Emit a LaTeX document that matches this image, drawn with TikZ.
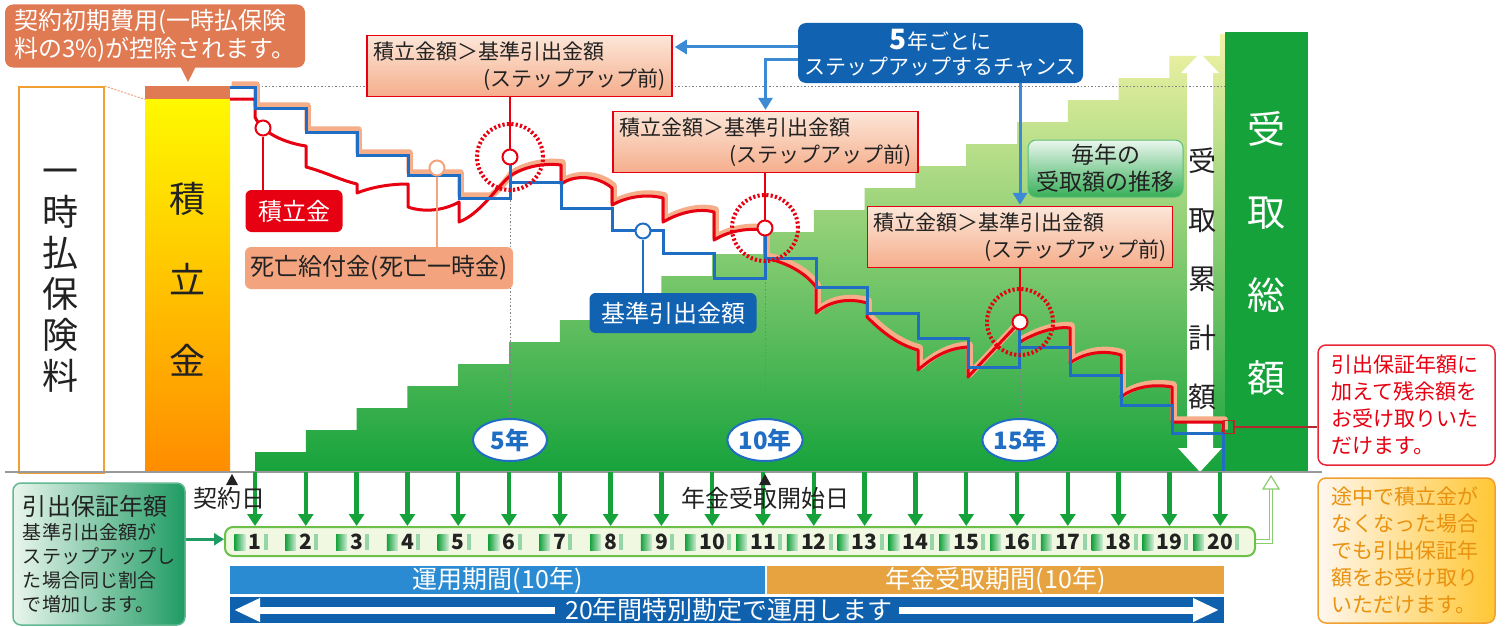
\documentclass[tikz,border=0pt]{standalone}
\usepackage{fontspec}
\setmainfont{Noto Sans CJK JP}
\usetikzlibrary{arrows.meta,calc,shapes.geometric}
\definecolor{cRed}{HTML}{E60012}
\definecolor{cBlue}{HTML}{1F6EC3}
\definecolor{cBlueD}{HTML}{1162B1}
\definecolor{cArrowB}{HTML}{3B8AD3}
\definecolor{cSalm}{HTML}{F3A47F}
\definecolor{cSalmL}{HTML}{F5AD8A}
\definecolor{cBrown}{HTML}{DF7A52}
\definecolor{cGreen}{HTML}{15A23B}
\definecolor{cGreenM}{HTML}{86C540}
\definecolor{cYelL}{HTML}{F3F4A6}
\definecolor{cOrange}{HTML}{F0A030}
\definecolor{cOrText}{HTML}{E9920F}
\definecolor{cBarBlue}{HTML}{2A8BD2}
\definecolor{cBarOr}{HTML}{E7A33F}
\definecolor{cBarDB}{HTML}{0F61AE}
\definecolor{cTeal}{HTML}{1F9B63}
\definecolor{cTealL}{HTML}{EAF6EE}
\definecolor{cDarkRed}{HTML}{B22A2E}
\definecolor{cBoxTop}{HTML}{FCE6D8}
\definecolor{cBoxBot}{HTML}{F5AE8C}
\definecolor{cStripG}{HTML}{6CC04A}
\definecolor{cStripF}{HTML}{F0F8E2}
\definecolor{cTxt}{HTML}{222222}
\newcommand\fsz[2]{\fontsize{#1}{#2}\selectfont}
\def\redtail{ .. controls (525,166) and (545,163) .. (561,165) -- (561,184) .. controls (575,174) and (598,176) .. (612,188) -- (612,205) .. controls (628,196) and (648,194) .. (663,198) -- (663,222) .. controls (680,212) and (700,208) .. (714,212) -- (714,240) .. controls (730,230) and (750,228) .. (765,230) -- (765,258) .. controls (785,262) and (805,272) .. (816,287) -- (816,313) .. controls (830,300) and (850,298) .. (867,303) -- (867,317) .. controls (885,335) and (900,345) .. (918,350) -- (918,370) .. controls (935,355) and (950,348) .. (968,347) -- (968,377) -- (1014,328) (1020,342) .. controls (1035,333) and (1055,326) .. (1070,328) -- (1070,363) .. controls (1085,352) and (1105,350) .. (1121,355) -- (1121,397) .. controls (1135,386) and (1155,384) .. (1172,387) -- (1172,422) -- (1223,422) -- (1223,432)}
\begin{document}
\begin{tikzpicture}[x=1pt,y=-1pt,
  redl/.style={draw=cRed, line width=3pt, line join=round},
  bluel/.style={draw=cBlue, line width=3pt},
  salml/.style={draw=cSalmL, line width=6.5pt, line join=round},
  dotm/.style={circle, fill=white, draw=#1, line width=2pt, minimum size=15pt, inner sep=0pt},
  dashc/.style={circle, draw=cRed, line width=4pt, dash pattern=on 2.2pt off 2.2pt, minimum size=66pt, inner sep=0pt},
  cbox/.style={draw=cRed, line width=1.5pt, top color=cBoxTop, bottom color=cBoxBot, text width=293pt, minimum height=60pt, align=left, inner sep=6pt, font=\fsz{21}{27}, text=cTxt},
  lab/.style={rounded corners=6pt, font=\fsz{24}{28}, inner sep=0pt},
  yra/.style={draw=cGreen, line width=4.5pt, -{Triangle[width=15pt,length=12pt]}},
  barrow/.style={draw=cArrowB, line width=3pt, -{Triangle[width=14pt,length=12pt]}},
  warrow/.style={draw=white, line width=7pt, -{Triangle[width=22pt,length=26pt]}},
  yoval/.style={ellipse, draw=cBlue, line width=2pt, fill=white, minimum width=74pt, minimum height=42pt, inner sep=0pt, text=cBlue, font=\fsz{24}{24}\bfseries},
  vtxt/.style={align=center, inner sep=0pt, text=cTxt},
  tag/.style={font=\fsz{24}{24}, inner sep=0pt, text=cTxt}
]
\useasboundingbox (0,0) rectangle (1506,626);
\fill[white] (0,0) rectangle (1506,626);

% staircase of yearly amounts
\begin{scope}
 \clip (255,472) \foreach \i in {0,...,18}{ -- ({255+50.8*\i},{452-22*\i}) -- ({255+50.8*(\i+1)},{452-22*\i}) } -- (1220.2,34) -- (1225,34) -- (1225,472) -- cycle;
 \shade[top color=cYelL, middle color=cGreenM, bottom color=cGreen] (250,30) rectangle (1230,475);
\end{scope}

% total column
\node[fill=cGreen, minimum width=83pt, minimum height=440pt, inner sep=0pt, anchor=north west] (col) at (1225,32) {};
\node[vtxt, text=white, font=\fsz{38}{83}] (coltxt) at (1266,254) {受\\取\\総\\額};

% cumulative arrow
\fill[white] (1200,53) -- (1219,73) -- (1213,73) -- (1213,448) -- (1222,448) -- (1200,472) -- (1178,448) -- (1187,448) -- (1187,73) -- (1181,73) -- cycle;
\node[vtxt, font=\fsz{28}{59}] (cumtxt) at (1202,279) {受\\取\\累\\計\\額};

% left boxes
\node[draw=cOrange, line width=1.5pt, minimum width=85pt, minimum height=386pt, inner sep=0pt, anchor=north west] (lbox) at (18,86) {};
\node[vtxt, font=\fsz{36}{41}] (lboxt) at (60,281) {一\\時\\払\\保\\険\\料};
\node[top color=yellow!95!orange, bottom color=orange!90!yellow, minimum width=85pt, minimum height=373pt, inner sep=0pt, anchor=north west] (ybar) at (145,99) {};
\node[fill=cBrown, minimum width=85pt, minimum height=13pt, inner sep=0pt, anchor=north west] (ycap) at (145,86) {};
\node[vtxt, font=\fsz{36}{81}] (ybart) at (187,279) {積\\立\\金};
\draw[cSalm, line width=1pt, dash pattern=on 2pt off 1.5pt] (lbox.north east) -- (ycap.south west);

% top-left callout
\node[fill=cBrown, rounded corners=8pt, text=white, align=left, font=\fsz{24}{28}, minimum width=300pt, minimum height=63pt, inner sep=4pt] (init) at (155,36) {契約初期費用(一時払保険\\料の3\%)が控除されます。};
\fill[cBrown] (180,66) -- (196,66) -- (188,82) -- cycle;

% dotted guide
\draw[gray, line width=1pt, dash pattern=on 1.5pt off 2pt] (258,86) -- (col.north west |- 0,86);

% year ovals and dotted verticals
\node[yoval] (y5) at (510,440) {5年};
\node[yoval] (y10) at (765,440) {10年};
\node[yoval] (y15) at (1020,440) {15年};
\coordinate (v5) at (510,200);
\coordinate (v10) at (765,282);
\coordinate (v15) at (1020,368);
\draw[gray, line width=1pt, dash pattern=on 1.5pt off 2pt] (v5) -- (y5.north);
\draw[gray, line width=1pt, dash pattern=on 1.5pt off 2pt] (v10) -- (y10.north);
\draw[gray, line width=1pt, dash pattern=on 1.5pt off 2pt] (v15) -- (y15.north);

% lines
\draw[salml, shift={(1.5,-2.5)}] (230,87) -- (255,87) -- (255,108) -- (306,108) -- (306,132) -- (357,132) -- (357,155) -- (408,155) -- (408,175) -- (459,175) -- (459,198) -- (490,198) .. controls (500,190) and (505,182) .. (510,176) \redtail;
\draw[redl] (230,99) -- (255,99) -- (255,117) .. controls (262,133) and (285,143) .. (306,146) -- (306,167) .. controls (325,172) and (340,180) .. (357,184) -- (357,193) .. controls (372,187) and (390,184) .. (408,184) -- (408,207) .. controls (425,213) and (445,210) .. (459,202) -- (459,222) .. controls (480,214) and (496,188) .. (510,176) \redtail;
\draw[bluel] (230,87) -- (255,87) -- (255,108) -- (306,108) -- (306,132) -- (357,132) -- (357,155) -- (408,155) -- (408,175) -- (459,175) -- (459,198) -- (510,198) -- (510,162)
 (510,182) -- (561,182) -- (561,208) -- (612,208) -- (612,230) -- (663,230) -- (663,253) -- (714,253) -- (714,278) -- (765,278) -- (765,234)
 (765,258) -- (816,258) -- (816,287) -- (867,287) -- (867,313) -- (918,313) -- (918,338) -- (968,338) -- (968,367) -- (1019,367) -- (1019,328)
 (1019,347) -- (1070,347) -- (1070,375) -- (1121,375) -- (1121,405) -- (1172,405) -- (1172,433) -- (1223,433) -- (1223,472);

% dashed circles and markers
\node[dashc] (dc5) at (510,157) {};
\node[dashc] (dc10) at (765,228) {};
\node[dashc] (dc15) at (1020,322) {};

% labels
\node[lab, fill=cRed, text=white, minimum width=97pt, minimum height=42pt] (lab1) at (294,211) {積立金};
\node[lab, fill=cSalm, text=cTxt, minimum width=268pt, minimum height=42pt] (lab2) at (379,268) {死亡給付金(死亡一時金)};
\node[lab, fill=cBlueD, text=white, minimum width=167pt, minimum height=40pt] (lab3) at (673,313) {基準引出金額};
\node[dotm=cRed] (m1) at (263,128) {};
\node[dotm=cSalm] (m2) at (437,168) {};
\node[dotm=cBlue] (m3) at (643,231) {};
\draw[cRed, line width=1.5pt] (m1.south) -- (m1.south |- lab1.north);
\draw[cSalm, line width=1.5pt] (m2.south) -- (m2.south |- lab2.north);
\draw[cBlue, line width=1.5pt] (m3.south) -- (m3.south |- lab3.north);

% step-up callouts
\node[cbox] (boxA) at (519.5,66) {積立金額＞基準引出金額\\\hspace*{\fill}(ステップアップ前)};
\node[cbox] (boxB) at (765.5,142) {積立金額＞基準引出金額\\\hspace*{\fill}(ステップアップ前)};
\node[cbox] (boxC) at (1020,237) {積立金額＞基準引出金額\\\hspace*{\fill}(ステップアップ前)};
\node[dotm=cRed] (s5) at (510,157) {};
\node[dotm=cRed] (s10) at (765,228) {};
\node[dotm=cRed] (s15) at (1020,322) {};
\draw[cRed, line width=1.5pt] (boxA.south -| s5) -- (s5.north);
\draw[cRed, line width=1.5pt] (boxB.south -| s10) -- (s10.north);
\draw[cRed, line width=1.5pt] (boxC.south -| s15) -- (s15.north);

% chance callout
\node[fill=cBlueD, rounded corners=8pt, text=white, align=center, font=\fsz{21}{25}, minimum width=285pt, minimum height=60pt, inner sep=2pt] (chance) at (940.5,53) {{\fsz{28}{25}\bfseries 5}年ごとに\\ステップアップするチャンス};
\coordinate (cA) at ($(chance.west)+(0,-6)$);
\coordinate (cB) at ($(chance.west)+(0,7)$);
\draw[barrow, shorten >=2pt] (cA) -- (boxA.east |- cA);
\draw[barrow, shorten >=1pt] (cB) -| (boxB.north);
\draw[barrow, shorten >=1pt] (chance.south -| boxC.north) -- (boxC.north);

% annual label
\node[draw=cGreen!70, line width=1pt, rounded corners=8pt, top color=cTealL, bottom color=cGreen!85, font=\fsz{23}{27}, align=center, minimum width=155pt, minimum height=57pt, inner sep=2pt, text=cTxt] (annual) at (1105.5,168.5) {毎年の\\受取額の推移};

% end marker and right callouts
\node[draw=cDarkRed, line width=1.5pt, minimum width=10pt, minimum height=13pt, inner sep=0pt] (endm) at (1229,427) {};
\node[draw=cRed!85, line width=1.5pt, rounded corners=8pt, fill=white, text=cRed, align=left, font=\fsz{21}{27}, minimum width=177pt, minimum height=120pt, inner sep=0pt, text width=150pt] (rbox) at (1406.5,405) {引出保証年額に\\加えて残余額を\\お受け取りいた\\だけます。};
\draw[cDarkRed, line width=1.2pt] (endm.east) -- (rbox.west |- endm.east);
\node[draw=cOrange, line width=1.5pt, rounded corners=8pt, left color=orange!6, right color=orange!55!yellow!80, text=cOrText, align=left, font=\fsz{21}{27}, minimum width=177pt, minimum height=145pt, inner sep=0pt, text width=150pt] (obox) at (1406.5,550.5) {途中で積立金が\\なくなった場合\\でも引出保証年\\額をお受け取り\\いただけます。};

% ground line
\coordinate (g0) at (5,472);
\coordinate (g1) at (1322,472);
\draw[gray!80, line width=1.5pt] (g0) -- (g1);

% year arrows and strip
\node[draw=cStripG, line width=2pt, fill=cStripF, rounded corners=8pt, minimum width=1030pt, minimum height=29pt, inner sep=0pt] (strip) at (740,541.5) {};
\foreach \i in {1,...,20} {
  \pgfmathsetmacro\xx{255+50.8*(\i-1)}
  \coordinate (t\i) at (\xx,472);
  \coordinate (b\i) at (\xx,526);
  \draw[yra] (t\i) -- (b\i);
  \node[font=\fsz{21}{21}\bfseries, inner sep=1pt, text=cTxt] (n\i) at (\xx,542) {\i};
  \shade[left color=cGreen, right color=cGreen!20] ($(n\i.west)+(-13,-8)$) rectangle ($(n\i.west)+(-2,8)$);
  \fill[cGreen!45] ($(n\i.east)+(1,-8)$) rectangle ($(n\i.east)+(5,8)$);
}
\coordinate (colin) at (1271,476);
\draw[cStripG!80, line width=1.2pt, double=white, double distance=2.5pt] (strip.east) -| ($(colin)+(0,13)$);
\draw[cStripG!80, line width=1.2pt, fill=white] ($(colin)+(-8,13)$) -- (colin) -- ($(colin)+(8,13)$) -- cycle;

% date tags
\node[tag] (contract) at (229,498) {契約日};
\node[tag] (start) at (765,498) {年金受取開始日};
\fill[cTxt] (226,485) -- (238,485) -- (232,474) -- cycle;
\fill[cTxt] (759,485) -- (771,485) -- (765,474) -- cycle;

% guarantee box
\node[draw=cTeal!70, line width=1.5pt, rounded corners=8pt, left color=cTealL, right color=cTeal, align=left, font=\fsz{19}{24}, minimum width=172pt, minimum height=142pt, inner sep=0pt, text width=152pt, text=cTxt] (lbtm) at (99,554) {{\fsz{24}{28}引出保証年額}\\基準引出金額が\\ステップアップし\\た場合同じ割合\\で増加します。};
\coordinate (ga) at ($(lbtm.north east)+(0,57)$);
\draw[cTeal, line width=3pt, -{Triangle[width=12pt,length=10pt]}] (ga) -- (strip.west |- ga);

% bottom bars
\node[fill=cBarBlue, minimum width=535pt, minimum height=28pt, inner sep=0pt, text=white, font=\fsz{25}{25}, anchor=north west] (op) at (230,566) {運用期間(10年)};
\node[fill=cBarOr, minimum width=457pt, minimum height=28pt, inner sep=0pt, text=white, font=\fsz{25}{25}, anchor=north west] (pay) at (767,566) {年金受取期間(10年)};
\node[fill=cBarDB, minimum width=994pt, minimum height=26pt, inner sep=0pt, anchor=north west] (spec) at (230,597) {};
\node[text=white, font=\fsz{25}{25}, inner sep=0pt] (spect) at (729,610) {20年間特別勘定で運用します};
\coordinate (la) at (234,610);
\coordinate (ra) at (1219,610);
\draw[warrow] ($(spect.west)+(-10,0)$) -- (la);
\draw[warrow] ($(spect.east)+(6,0)$) -- (ra);
\end{tikzpicture}
\end{document}
